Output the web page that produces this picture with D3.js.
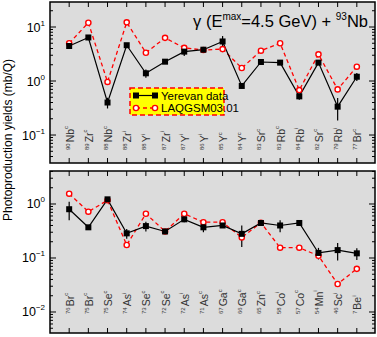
<!DOCTYPE html>
<html><head><meta charset="utf-8">
<script src="https://cdn.jsdelivr.net/npm/d3@7"></script>
<style>body{margin:0;background:#fff}svg{display:block;font-family:"Liberation Sans",Arial,sans-serif}</style>
</head><body><svg id="c" width="377" height="337"></svg>
<script>
const topIsotopes = ["90|Nb|c","89|Zr|c","88|Nb|c","88|Zr|i","88|Y|i","87|Zr|i","87|Y|i","86|Y|i","85|Y|c","84|Y|c","83|Sr|c","83|Rb|c","84|Rb|i","82|Sr|c","79|Rb|i","77|Br|c"];
const topYerevan    = [4.45,6.4,0.40,4.6,1.39,2.28,3.5,3.8,5.4,0.81,2.25,2.19,0.52,2.19,0.335,1.2];
const topYerevanErr = [0.5,0.5,0.09,0.4,0.24,0.2,0.6,0.3,1.4,0.08,0.2,0.2,0.07,0.2,0.15,0.2];
const topLaqgsm     = [5.0,12.0,0.96,12.2,3.34,6.3,4.1,3.75,3.9,1.74,3.64,5.0,0.68,3.12,0.70,1.84];
const botIsotopes = ["76|Br|c","75|Br|c","75|Se|c","74|As|i","73|Se|c","72|Se|c","72|As|i","71|As|c","67|Ga|c","66|Ga|c","65|Zn|c","58|Co|i","57|Co|c","54|Mn|i","46|Sc|i","7|Be|i"];
const botYerevan    = [0.80,0.37,1.22,0.286,0.39,0.31,0.52,0.37,0.40,0.28,0.445,0.40,0.445,0.124,0.14,0.122];
const botYerevanErr = [0.3,0.04,0.1,0.06,0.08,0.03,0.06,0.07,0.04,0.12,0.04,0.1,0.05,0.03,0.05,0.03];
const botLaqgsm     = [1.55,0.72,1.17,0.174,0.66,0.31,0.66,0.46,0.46,0.24,0.45,0.155,0.155,0.11,0.033,0.063];
const topTickExps = [1,0,-1];
const botTickExps = [0,-1,-2];
const seriesNames = ["Yerevan data","LAQGSM03.01"];

const svg = d3.select("#c");
const X0 = 50, X1 = 375;

function panel(cfg){
  const {isotopes, yer, err, laq, exps, top, bottom, domain, labelY} = cfg;
  const x = d3.scalePoint().domain(isotopes).range([X0, X1+1]).padding(1);
  const y = d3.scaleLog().domain(domain).range([bottom, top]);
  const g = svg.append("g");
  g.append("rect").attr("x",X0).attr("y",top).attr("width",X1-X0).attr("height",bottom-top).attr("fill","#dcdcdc");
  isotopes.forEach(s=>{
    const [m,el,st] = s.split("|");
    const t = g.append("text").attr("transform",`translate(${x(s)+4.5},${labelY}) rotate(-90)`)
      .attr("font-size",10.5).attr("fill","#333");
    t.append("tspan").attr("font-size",6).attr("dy",-4).text(m);
    t.append("tspan").attr("dy",4).attr("dx",1).text(el);
    t.append("tspan").attr("font-size",6).attr("dy",-5.5).text(st);
  });
  const line = d3.line().x((d,i)=>x(isotopes[i])).y(d=>y(d));
  g.append("path").attr("d",line(laq)).attr("fill","none").attr("stroke","#ff0000").attr("stroke-width",1.3).attr("stroke-dasharray","4,3");
  g.append("path").attr("d",line(yer)).attr("fill","none").attr("stroke","#000").attr("stroke-width",1.2);
  yer.forEach((v,i)=>{
    g.append("line").attr("x1",x(isotopes[i])).attr("x2",x(isotopes[i]))
      .attr("y1",y(v+err[i])).attr("y2",y(Math.max(v-err[i],domain[0]))).attr("stroke","#000").attr("stroke-width",1.2);
  });
  laq.forEach((v,i)=>{
    g.append("circle").attr("cx",x(isotopes[i])).attr("cy",y(v)).attr("r",2.6)
      .attr("fill","#fff").attr("stroke","#ff0000").attr("stroke-width",1.4);
  });
  yer.forEach((v,i)=>{
    g.append("rect").attr("x",x(isotopes[i])-3).attr("y",y(v)-3).attr("width",6).attr("height",6).attr("fill","#000");
  });
  g.append("rect").attr("x",X0).attr("y",top).attr("width",X1-X0).attr("height",bottom-top).attr("fill","none").attr("stroke","#000").attr("stroke-width",1.5);
  isotopes.forEach(s=>{
    g.append("line").attr("x1",x(s)).attr("x2",x(s)).attr("y1",bottom).attr("y2",bottom-5).attr("stroke","#000");
    g.append("line").attr("x1",x(s)).attr("x2",x(s)).attr("y1",top).attr("y2",top+5).attr("stroke","#000");
  });
  const lo = Math.floor(Math.log10(domain[0])), hi = Math.ceil(Math.log10(domain[1]));
  for(let e=lo;e<=hi;e++){
    for(let k=1;k<10;k++){
      const v = k*Math.pow(10,e);
      if(v<domain[0]||v>domain[1]) continue;
      const len = k===1?6:3;
      const yy = y(v);
      g.append("line").attr("x1",X0).attr("x2",X0+len).attr("y1",yy).attr("y2",yy).attr("stroke","#000");
      g.append("line").attr("x1",X1).attr("x2",X1-len).attr("y1",yy).attr("y2",yy).attr("stroke","#000");
    }
  }
  exps.forEach(e=>{
    const t = g.append("text").attr("x",45).attr("y",y(Math.pow(10,e))+4.5).attr("text-anchor","end").attr("font-size",12.5);
    t.append("tspan").text("10");
    t.append("tspan").attr("font-size",8).attr("dy",-6).text(e<0?"\u2212"+(-e):String(e));
  });
  return {x,y};
}

panel({isotopes:topIsotopes, yer:topYerevan, err:topYerevanErr, laq:topLaqgsm, exps:topTickExps,
  top:2, bottom:163, domain:[Math.pow(10,-1.518),Math.pow(10,1.463)], labelY:150});
panel({isotopes:botIsotopes, yer:botYerevan, err:botYerevanErr, laq:botLaqgsm, exps:botTickExps,
  top:171, bottom:333, domain:[Math.pow(10,-2.389),Math.pow(10,0.611)], labelY:314});

const tt = svg.append("text").attr("x",368).attr("y",27).attr("text-anchor","end").attr("font-size",16.5);
tt.append("tspan").text("\u03b3 (E");
tt.append("tspan").attr("font-size",10).attr("dy",-7).text("max");
tt.append("tspan").attr("dy",7).text("=4.5 GeV) + ");
tt.append("tspan").attr("font-size",10).attr("dy",-7).text("93");
tt.append("tspan").attr("dy",7).text("Nb");

const lg = svg.append("g");
lg.append("rect").attr("x",130).attr("y",88).attr("width",94).attr("height",27).attr("fill","#ffff00")
  .attr("stroke","#ff0000").attr("stroke-width",1.5).attr("stroke-dasharray","5,3");
lg.append("line").attr("x1",136).attr("x2",155).attr("y1",95.5).attr("y2",95.5).attr("stroke","#000").attr("stroke-width",1.2);
[136,155].forEach(xx=>lg.append("rect").attr("x",xx-3).attr("y",92.5).attr("width",6).attr("height",6).attr("fill","#000"));
lg.append("line").attr("x1",136).attr("x2",155).attr("y1",108).attr("y2",108).attr("stroke","#ff0000").attr("stroke-width",1.3).attr("stroke-dasharray","4,3");
[136,155].forEach(xx=>lg.append("circle").attr("cx",xx).attr("cy",108).attr("r",2.6).attr("fill","#fff").attr("stroke","#ff0000").attr("stroke-width",1.4));
lg.append("text").attr("x",161).attr("y",99.5).attr("font-size",11.5).text(seriesNames[0]);
lg.append("text").attr("x",161).attr("y",112).attr("font-size",11.5).text(seriesNames[1]);

svg.append("text").attr("transform","translate(12,140) rotate(-90)").attr("text-anchor","middle").attr("font-size",12).text("Photoproduction yields (mb/Q)");
</script></body></html>
